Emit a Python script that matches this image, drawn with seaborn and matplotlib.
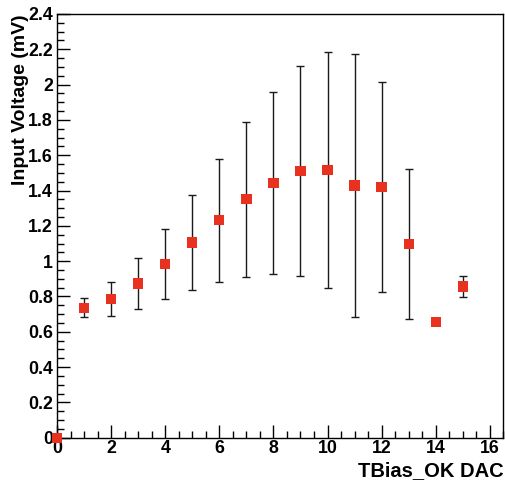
import numpy as np
import pandas as pd
import seaborn as sns
import matplotlib
matplotlib.use("Agg")
import matplotlib.pyplot as plt
from matplotlib import ticker

# values
dac = [0, 1, 2, 3, 4, 5, 6, 7, 8, 9, 10, 11, 12, 13, 14, 15]
voltage = [0.0, 0.736, 0.786, 0.873, 0.983, 1.105, 1.232, 1.352, 1.443, 1.512,
           1.517, 1.428, 1.422, 1.097, 0.654, 0.856]
voltage_err = [0.0, 0.054, 0.095, 0.144, 0.198, 0.267, 0.348, 0.439, 0.517, 0.594,
               0.669, 0.744, 0.595, 0.426, 0.0, 0.058]

df = pd.DataFrame({"dac": dac, "voltage": voltage, "err": voltage_err})

sns.set_style("ticks")
plt.rcParams['font.family'] = ['Liberation Sans', 'DejaVu Sans']
plt.rcParams['font.weight'] = 'bold'
plt.rcParams['text.color'] = 'black'
plt.rcParams['axes.labelcolor'] = 'black'
plt.rcParams['xtick.color'] = 'black'
plt.rcParams['ytick.color'] = 'black'

fig = plt.figure(figsize=(5.05, 4.87), dpi=100)
ax = fig.add_axes([0.1129, 0.1012, 0.9967 - 0.1129, 0.9713 - 0.1012])

# error bars only where there is a spread
with_err = df[df['err'] > 0]
ax.errorbar(with_err['dac'], with_err['voltage'], yerr=with_err['err'], fmt='none',
            ecolor='#1a1a1a', elinewidth=1.0, capsize=3, capthick=1.0, zorder=2)
sns.scatterplot(x='dac', y='voltage', data=df, ax=ax, marker='s', s=55,
                color='#e8321f', edgecolor='none', linewidth=0, zorder=3, clip_on=False)

ax.set_xlim(0, 16.5)
ax.set_ylim(0, 2.4)
ax.xaxis.set_major_locator(ticker.MultipleLocator(2))
ax.xaxis.set_minor_locator(ticker.MultipleLocator(0.5))
ax.yaxis.set_major_locator(ticker.MultipleLocator(0.2))
ax.yaxis.set_minor_locator(ticker.MultipleLocator(0.05))
ax.yaxis.set_major_formatter(ticker.FuncFormatter(lambda v, p: ('%.1f' % v).rstrip('0').rstrip('.') if v else '0'))
ax.xaxis.set_major_formatter(ticker.FuncFormatter(lambda v, p: '%d' % v))

ax.tick_params(which='both', direction='in', top=False, right=False, width=1,
               color='black', labelcolor='black')
ax.tick_params(which='major', length=9.5)
ax.tick_params(which='minor', length=4.8)
ax.tick_params(axis='x', which='major', labelsize=12.8, pad=2)
ax.tick_params(axis='y', which='major', labelsize=12.8, pad=3)
for lab in ax.get_xticklabels() + ax.get_yticklabels():
    lab.set_fontweight('bold')

for side in ['top', 'right', 'left', 'bottom']:
    ax.spines[side].set_visible(True)
    ax.spines[side].set_linewidth(1.0)
    ax.spines[side].set_color('black')

ax.set_ylabel('Input Voltage (mV)', fontsize=14, fontweight='bold', loc='top', color='black')
ax.yaxis.set_label_coords(-0.062, 1.0)
ax.set_xlabel('TBias_OK DAC', fontsize=14.5, fontweight='bold', loc='right', color='black')
ax.xaxis.set_label_coords(1.0, -0.055)

fig.savefig('out.png', dpi=100)
